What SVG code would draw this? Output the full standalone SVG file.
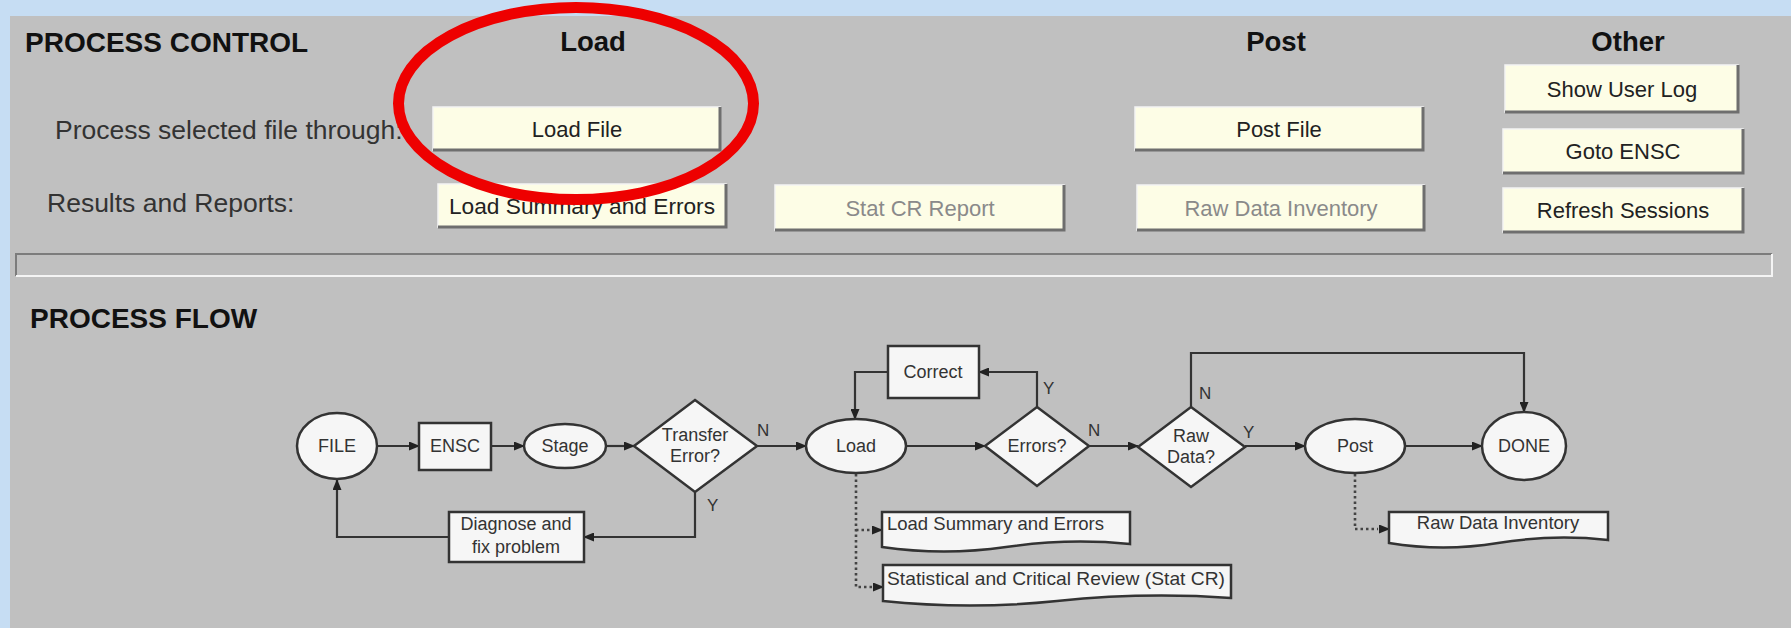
<svg xmlns="http://www.w3.org/2000/svg" width="1791" height="628" viewBox="0 0 1791 628">
<style>
.hd{font-family:"Liberation Sans",Arial,sans-serif;font-weight:bold;fill:#111;}
.lbl{font-family:"Liberation Sans",Arial,sans-serif;font-size:26.5px;fill:#333;}
.bt{font-family:"Liberation Sans",Arial,sans-serif;font-size:22px;fill:#222;text-anchor:middle;}
.bt.dis{fill:#8a8a8a;}
.bf{fill:#fdfde6;stroke:#f4f4f4;stroke-width:1.5;}
.bs{fill:none;stroke:#6e6e6e;stroke-width:3;}
.sh{fill:#f6f6f6;stroke:#333;stroke-width:2.5;}
.ft{font-family:"Liberation Sans",Arial,sans-serif;font-size:18px;fill:#333;text-anchor:middle;}
.dt{font-family:"Liberation Sans",Arial,sans-serif;font-size:18.5px;fill:#333;}
.yn{font-family:"Liberation Sans",Arial,sans-serif;font-size:17px;fill:#333;}
.ln{fill:none;stroke:#333;stroke-width:2.2;}
.dot{fill:none;stroke:#444;stroke-width:2.6;stroke-dasharray:2.5 3;}
</style>
<defs>
<marker id="ah" markerUnits="userSpaceOnUse" markerWidth="11" markerHeight="9" refX="10" refY="4.5" orient="auto">
<path d="M0,0 L11,4.5 L0,9 z" fill="#222"/>
</marker>
</defs>
<rect x="0" y="0" width="1791" height="628" fill="#c6ddf3"/>
<rect x="10" y="16" width="1781" height="612" fill="#c0c0c0"/>

<g id="process-control">
<text class="hd" x="25" y="52" font-size="28">PROCESS CONTROL</text>
<text class="hd" x="593" y="51" font-size="27.5" text-anchor="middle">Load</text>
<text class="hd" x="1276" y="51" font-size="27.5" text-anchor="middle">Post</text>
<text class="hd" x="1628" y="51" font-size="27.5" text-anchor="middle">Other</text>
<text class="lbl" x="55" y="139">Process selected file through:</text>
<text class="lbl" x="47" y="212">Results and Reports:</text>
</g>

<g id="btn-load-file">
<rect class="bf" x="433" y="107" width="287" height="43"/>
<path class="bs" d="M433,150 H720 V107"/>
<text class="bt" x="577" y="137">Load File</text>
</g>
<g id="btn-load-summary">
<rect class="bf" x="438" y="184" width="288" height="43"/>
<path class="bs" d="M438,227 H726 V184"/>
<text class="bt" x="582" y="214" textLength="266" lengthAdjust="spacingAndGlyphs">Load Summary and Errors</text>
</g>
<g id="btn-stat-cr">
<rect class="bf" x="775" y="185" width="289" height="45"/>
<path class="bs" d="M775,230 H1064 V185"/>
<text class="bt dis" x="920" y="216">Stat CR Report</text>
</g>
<g id="btn-post-file">
<rect class="bf" x="1135" y="107" width="288" height="43"/>
<path class="bs" d="M1135,150 H1423 V107"/>
<text class="bt" x="1279" y="137">Post File</text>
</g>
<g id="btn-raw-data">
<rect class="bf" x="1137" y="185" width="287" height="45"/>
<path class="bs" d="M1137,230 H1424 V185"/>
<text class="bt dis" x="1281" y="216">Raw Data Inventory</text>
</g>
<g id="btn-show-user-log">
<rect class="bf" x="1505" y="65" width="233" height="47"/>
<path class="bs" d="M1505,112 H1738 V65"/>
<text class="bt" x="1622" y="97">Show User Log</text>
</g>
<g id="btn-goto-ensc">
<rect class="bf" x="1503" y="129" width="240" height="44"/>
<path class="bs" d="M1503,173 H1743 V129"/>
<text class="bt" x="1623" y="159">Goto ENSC</text>
</g>
<g id="btn-refresh">
<rect class="bf" x="1503" y="188" width="240" height="44"/>
<path class="bs" d="M1503,232 H1743 V188"/>
<text class="bt" x="1623" y="218">Refresh Sessions</text>
</g>

<g id="separator">
<rect x="15" y="253" width="1758" height="24" fill="#c0c0c0"/>
<path d="M16,276 V254 H1772" fill="none" stroke="#7c7c7c" stroke-width="2"/>
<path d="M16,276 H1772 V254" fill="none" stroke="#f4f4f4" stroke-width="2"/>
</g>

<text class="hd" x="30" y="328" font-size="28">PROCESS FLOW</text>

<g id="connectors">
<path class="ln" d="M377,446 H419" marker-end="url(#ah)"/>
<path class="ln" d="M491,446 H524" marker-end="url(#ah)"/>
<path class="ln" d="M606,446 H634" marker-end="url(#ah)"/>
<path class="ln" d="M757,446 H806" marker-end="url(#ah)"/>
<path class="ln" d="M695,492 V537 H584" marker-end="url(#ah)"/>
<path class="ln" d="M449,537 H337 V480" marker-end="url(#ah)"/>
<path class="ln" d="M907,446 H985" marker-end="url(#ah)"/>
<path class="ln" d="M1037,407 V372 H979" marker-end="url(#ah)"/>
<path class="ln" d="M888,372 H855 V419" marker-end="url(#ah)"/>
<path class="ln" d="M1089,446 H1138" marker-end="url(#ah)"/>
<path class="ln" d="M1191,407 V353 H1524 V412" marker-end="url(#ah)"/>
<path class="ln" d="M1245,446 H1305" marker-end="url(#ah)"/>
<path class="ln" d="M1405,446 H1482" marker-end="url(#ah)"/>
<path class="dot" d="M856,474 V587 H872"/>
<path class="dot" d="M856,530 H872"/>
<path class="dot" d="M1355,474 V529 H1378"/>
<path class="ln" d="M872,530 H882" marker-end="url(#ah)"/>
<path class="ln" d="M873,587 H883" marker-end="url(#ah)"/>
<path class="ln" d="M1379,529 H1389" marker-end="url(#ah)"/>
<text class="yn" x="757" y="436">N</text>
<text class="yn" x="707" y="511">Y</text>
<text class="yn" x="1043" y="394">Y</text>
<text class="yn" x="1088" y="436">N</text>
<text class="yn" x="1199" y="399">N</text>
<text class="yn" x="1243" y="438">Y</text>
</g>

<g id="node-file">
<ellipse class="sh" cx="337" cy="446" rx="40" ry="33"/>
<text class="ft" x="337" y="452">FILE</text>
</g>
<g id="node-ensc">
<rect class="sh" x="419" y="423" width="72" height="47"/>
<text class="ft" x="455" y="452">ENSC</text>
</g>
<g id="node-stage">
<ellipse class="sh" cx="565" cy="446" rx="41" ry="22"/>
<text class="ft" x="565" y="452">Stage</text>
</g>
<g id="node-transfer-error">
<path class="sh" d="M695,400 L757,446 L695,492 L634,446 Z"/>
<text class="ft" x="695" y="441">Transfer</text>
<text class="ft" x="695" y="462">Error?</text>
</g>
<g id="node-diagnose">
<rect class="sh" x="449" y="512" width="135" height="50"/>
<text class="ft" x="516" y="530">Diagnose and</text>
<text class="ft" x="516" y="553">fix problem</text>
</g>
<g id="node-load">
<ellipse class="sh" cx="856" cy="446" rx="50" ry="27"/>
<text class="ft" x="856" y="452">Load</text>
</g>
<g id="node-correct">
<rect class="sh" x="888" y="346" width="91" height="52"/>
<text class="ft" x="933" y="378">Correct</text>
</g>
<g id="node-errors">
<path class="sh" d="M1037,407 L1089,446 L1037,486 L985,446 Z"/>
<text class="ft" x="1037" y="452">Errors?</text>
</g>
<g id="node-raw-data">
<path class="sh" d="M1191,407 L1245,447 L1191,487 L1138,447 Z"/>
<text class="ft" x="1191" y="442">Raw</text>
<text class="ft" x="1191" y="463">Data?</text>
</g>
<g id="node-post">
<ellipse class="sh" cx="1355" cy="446" rx="50" ry="27"/>
<text class="ft" x="1355" y="452">Post</text>
</g>
<g id="node-done">
<ellipse class="sh" cx="1524" cy="446" rx="42" ry="34"/>
<text class="ft" x="1524" y="452">DONE</text>
</g>
<g id="doc-load-summary">
<path class="sh" d="M882,512 H1130 V544 Q1068,538 1006,547 T882,547 Z"/>
<text class="dt" x="887" y="530">Load Summary and Errors</text>
</g>
<g id="doc-stat-cr">
<path class="sh" d="M883,565 H1231 V598 Q1144,592 1057,601 T883,601 Z"/>
<text class="dt" x="887" y="585" textLength="338" lengthAdjust="spacingAndGlyphs">Statistical and Critical Review (Stat CR)</text>
</g>
<g id="doc-raw-inventory">
<path class="sh" d="M1389,512 H1608 V540 Q1553,534 1498,543 T1389,543 Z"/>
<text class="dt" x="1498" y="529" text-anchor="middle">Raw Data Inventory</text>
</g>

<ellipse id="highlight" cx="576" cy="103.5" rx="177.5" ry="96" fill="none" stroke="#ee0000" stroke-width="11"/>
</svg>
